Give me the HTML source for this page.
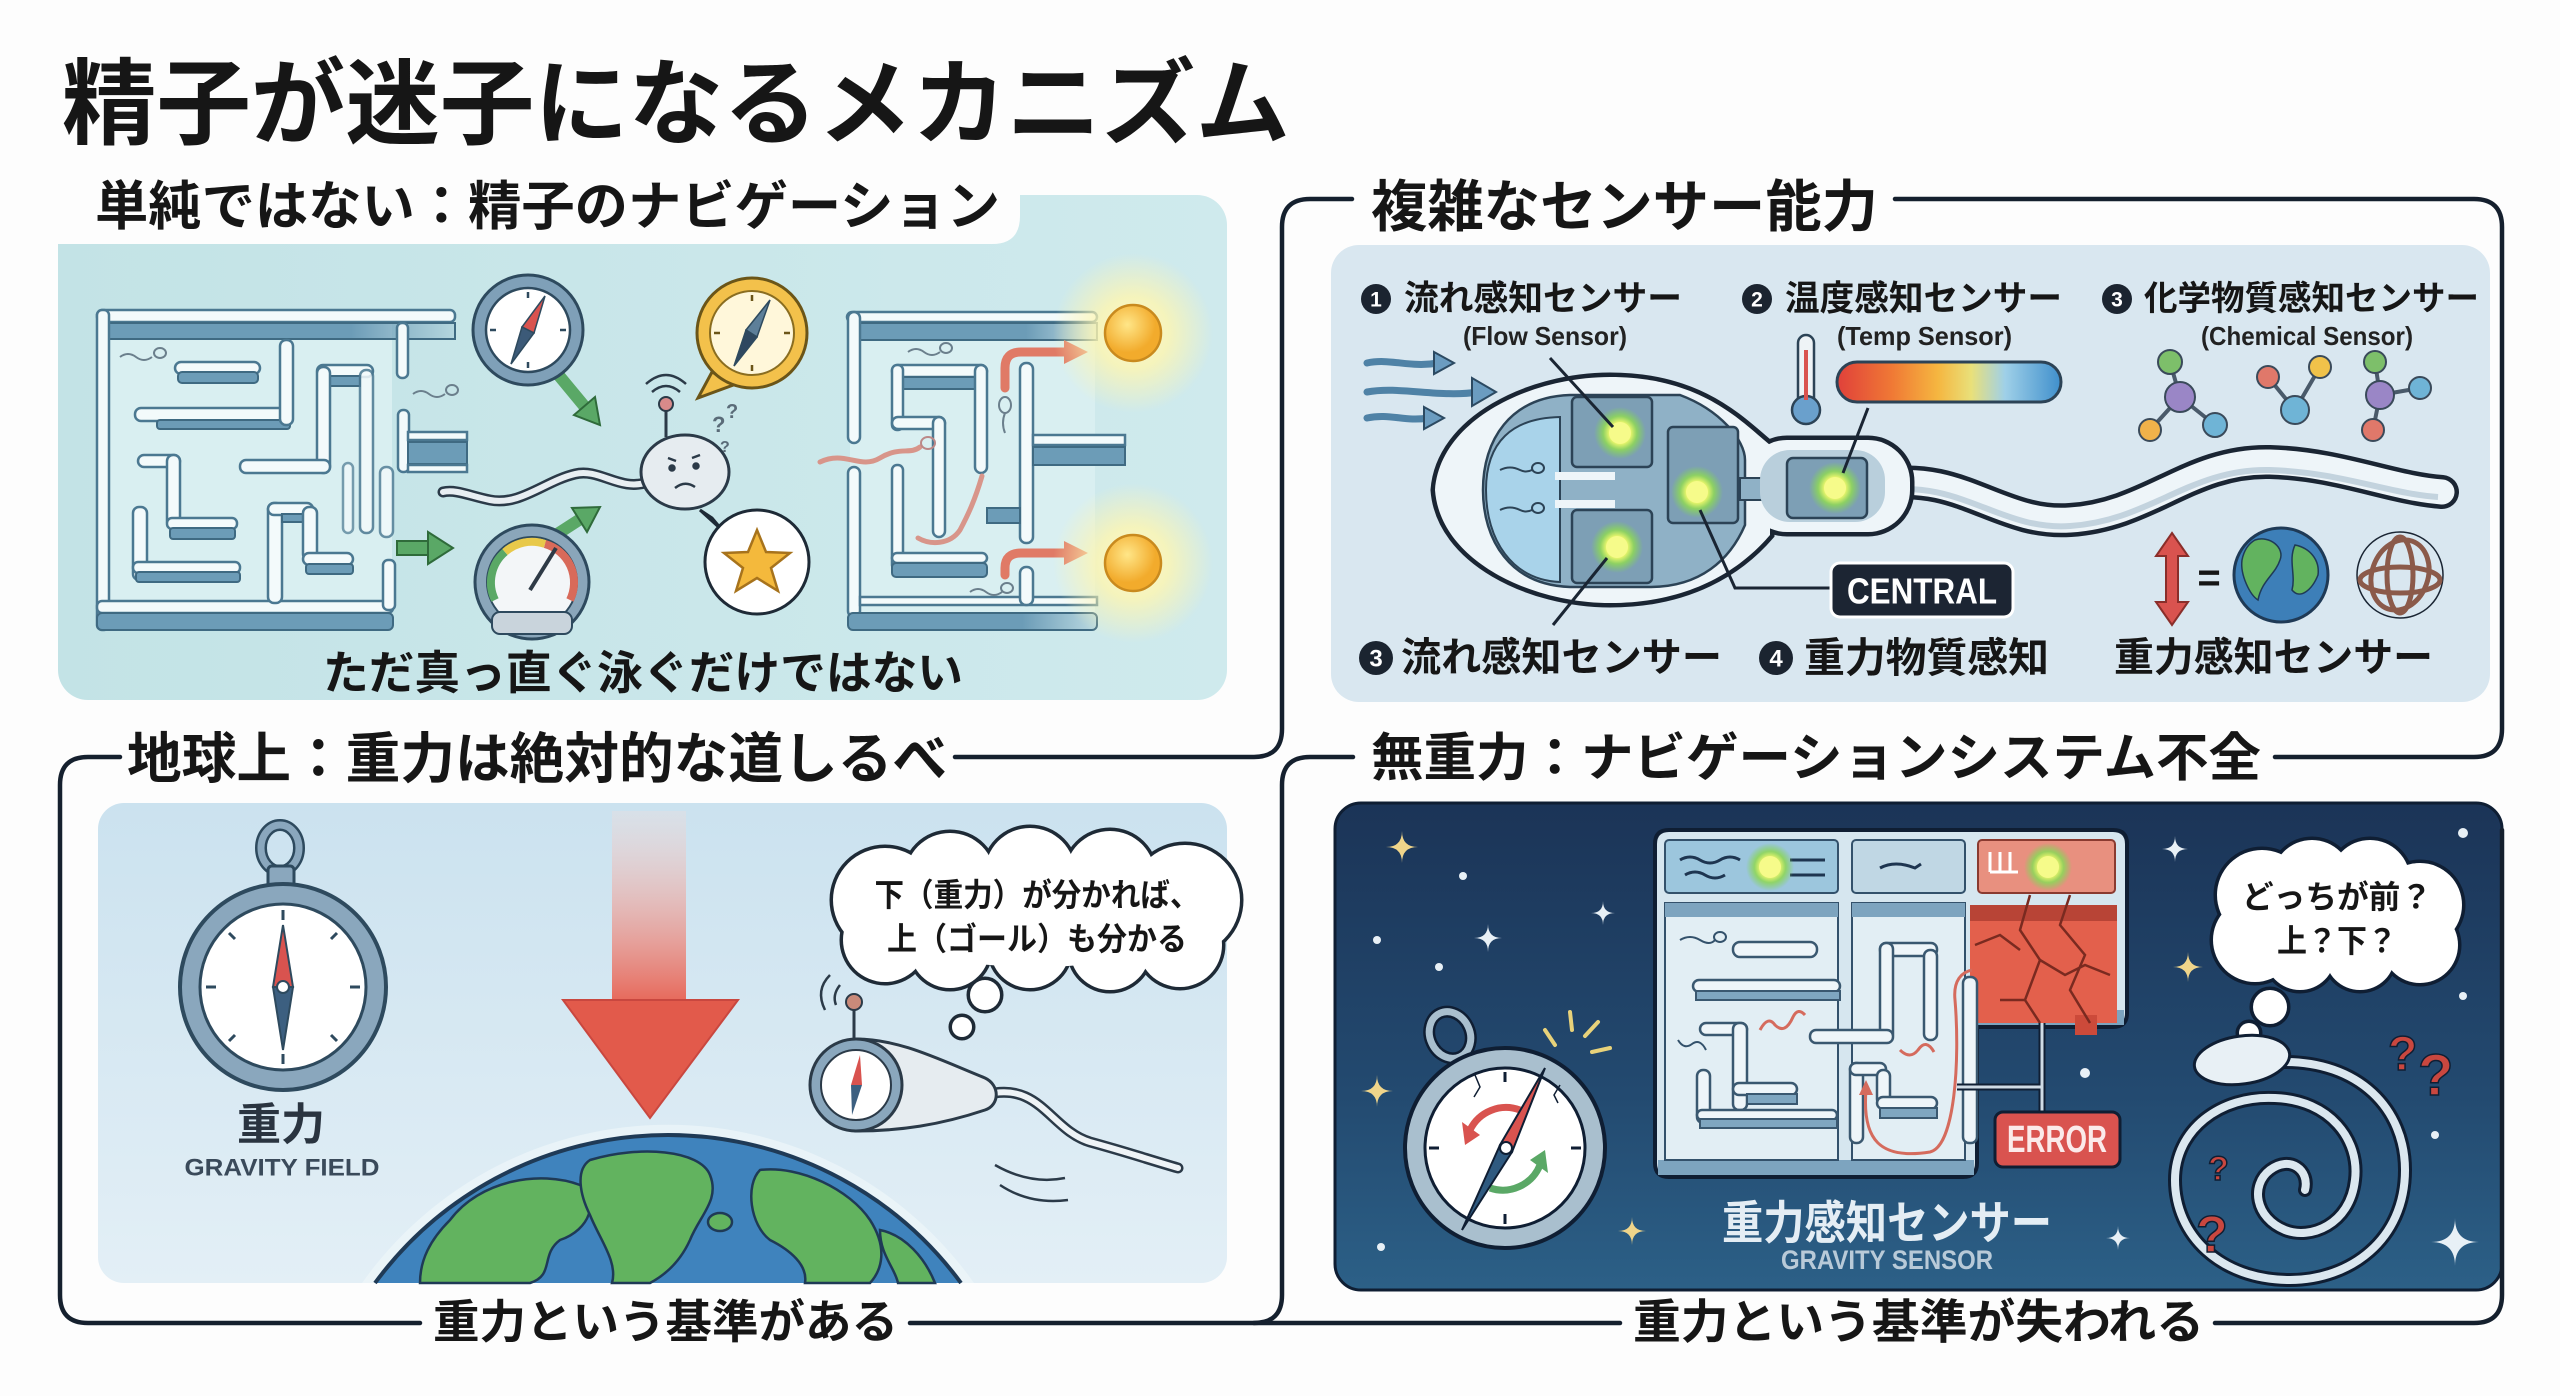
<!DOCTYPE html>
<html><head><meta charset="utf-8">
<style>
html,body{margin:0;padding:0;background:#fdfdfd;width:2560px;height:1396px;overflow:hidden;}
svg{display:block;}
.t{font-family:'Liberation Sans','Noto Sans CJK JP',sans-serif;font-weight:700;fill:#161616;}
.e{font-family:'Liberation Sans','Noto Sans CJK JP',sans-serif;font-weight:700;}
.w{fill:#f3fafb;stroke:#4b7891;stroke-width:2.5;}
.b{fill:#6c9cb7;stroke:#3f6a82;stroke-width:2;}
.w2{fill:#eef5f9;stroke:#3a5870;stroke-width:2.5;}
.b2{fill:#7fa6c0;stroke:#3a5870;stroke-width:2;}
</style></head><body>
<svg width="2560" height="1396" viewBox="0 0 2560 1396" xmlns="http://www.w3.org/2000/svg">
<defs>
<linearGradient id="gTeal" x1="0" y1="0" x2="1" y2="0"><stop offset="0" stop-color="#c3e3e6"/><stop offset="1" stop-color="#cfeaed"/></linearGradient>
<linearGradient id="gBL" x1="0" y1="0" x2="0" y2="1"><stop offset="0" stop-color="#cbe2ef"/><stop offset="1" stop-color="#e3eff6"/></linearGradient>
<linearGradient id="gDark" x1="0" y1="0" x2="0" y2="1"><stop offset="0" stop-color="#1b3457"/><stop offset="0.6" stop-color="#234a70"/><stop offset="1" stop-color="#2c6087"/></linearGradient>
<radialGradient id="sunGlow"><stop offset="0" stop-color="#fffbd0" stop-opacity="1"/><stop offset="0.45" stop-color="#fff6b0" stop-opacity="0.8"/><stop offset="1" stop-color="#fff6b0" stop-opacity="0"/></radialGradient>
<radialGradient id="sunFill" cx="0.4" cy="0.35"><stop offset="0" stop-color="#ffe688"/><stop offset="1" stop-color="#f2ab2c"/></radialGradient>
<radialGradient id="dotGlow"><stop offset="0" stop-color="#fbff9e"/><stop offset="0.4" stop-color="#eef86c"/><stop offset="0.65" stop-color="#8fd65a" stop-opacity="0.9"/><stop offset="1" stop-color="#7fd35a" stop-opacity="0"/></radialGradient>
<linearGradient id="tempBar" x1="0" y1="0" x2="1" y2="0"><stop offset="0" stop-color="#e0403a"/><stop offset="0.25" stop-color="#f07a35"/><stop offset="0.45" stop-color="#f5b640"/><stop offset="0.6" stop-color="#e9e07a"/><stop offset="0.75" stop-color="#9fd0e8"/><stop offset="1" stop-color="#3f8fcc"/></linearGradient>
<linearGradient id="shaft" x1="0" y1="0" x2="0" y2="1"><stop offset="0" stop-color="#f4dcd9" stop-opacity="0.3"/><stop offset="1" stop-color="#e7685a"/></linearGradient>
<linearGradient id="bandFade" x1="0" y1="0" x2="1" y2="0"><stop offset="0.7" stop-color="#6c9cb7"/><stop offset="1" stop-color="#6c9cb7" stop-opacity="0.2"/></linearGradient>
</defs>

<!-- TITLE -->
<text class="t" x="62" y="104" font-size="94" font-weight="900" dominant-baseline="central" textLength="1228" lengthAdjust="spacingAndGlyphs">精子が迷子になるメカニズム</text>

<!-- ===== PANEL BACKGROUNDS ===== -->
<rect x="58" y="195" width="1169" height="505" rx="30" fill="url(#gTeal)"/>
<path d="M0,150 H992 Q1020,150 1020,178 V216 Q1020,244 992,244 H0 Z" fill="#fdfdfd"/>
<rect x="1331" y="245" width="1159" height="457" rx="28" fill="#d9e7f0"/>
<rect x="98" y="803" width="1129" height="480" rx="26" fill="url(#gBL)"/>
<rect x="1335" y="803" width="1167" height="487" rx="26" fill="url(#gDark)" stroke="#0f1e33" stroke-width="3"/>

<!-- ===== FRAME LINES ===== -->
<g fill="none" stroke="#15202e" stroke-width="4.5" stroke-linecap="round">
<path d="M1352,199 L1310,199 Q1282,199 1282,227 L1282,729 Q1282,757 1254,757 L955,757"/>
<path d="M1895,199 L2474,199 Q2502,199 2502,227 L2502,729 Q2502,757 2474,757 L2275,757"/>
<path d="M120,757 L88,757 Q60,757 60,785 L60,1295 Q60,1323 88,1323 L420,1323"/>
<path d="M910,1323 L1620,1323"/>
<path d="M2215,1323 L2474,1323 Q2502,1323 2502,1295 L2502,830"/>
<path d="M1353,757 L1310,757 Q1282,757 1282,785 L1282,1295 Q1282,1323 1254,1323"/>
</g>

<!-- ===== HEADINGS ===== -->
<text class="t" x="95" y="207" font-size="53" dominant-baseline="central" textLength="905" lengthAdjust="spacingAndGlyphs">単純ではない：精子のナビゲーション</text>
<text class="t" x="1371" y="207" font-size="56" dominant-baseline="central" textLength="507" lengthAdjust="spacingAndGlyphs">複雑なセンサー能力</text>
<text class="t" x="127" y="759" font-size="55" dominant-baseline="central" textLength="820" lengthAdjust="spacingAndGlyphs">地球上：重力は絶対的な道しるべ</text>
<text class="t" x="1371" y="759" font-size="52" dominant-baseline="central" textLength="890" lengthAdjust="spacingAndGlyphs">無重力：ナビゲーションシステム不全</text>
<text class="t" x="433" y="1322" font-size="46" dominant-baseline="central" textLength="465" lengthAdjust="spacingAndGlyphs">重力という基準がある</text>
<text class="t" x="1633" y="1322" font-size="47" dominant-baseline="central" textLength="571" lengthAdjust="spacingAndGlyphs">重力という基準が失われる</text>

<!-- ===== TOP-LEFT PANEL ===== -->
<rect x="100" y="314" width="292" height="300" fill="#d9eff1"/>
<rect class="w" x="97" y="310" width="358" height="12" rx="5"/>
<rect x="108" y="323" width="347" height="16" fill="url(#bandFade)" stroke="#3f6a82" stroke-width="2"/>
<rect class="w" x="97" y="310" width="12" height="320" rx="5"/>
<rect class="w" x="97" y="601" width="296" height="12" rx="5"/>
<rect class="b" x="97" y="613" width="296" height="17" rx="5"/>
<rect class="w" x="383" y="560" width="12" height="50" rx="5"/>
<rect class="w" x="397" y="323" width="11" height="55" rx="5"/>
<rect class="w" x="398" y="410" width="11" height="62" rx="5"/>
<rect class="w" x="408" y="432" width="59" height="8"/>
<rect class="b" x="408" y="442" width="59" height="22"/>
<rect class="w" x="408" y="465" width="59" height="7"/>
<rect class="w" x="175" y="362" width="85" height="12" rx="6"/>
<rect class="b" x="178" y="372" width="80" height="11" rx="4"/>
<rect class="w" x="135" y="408" width="155" height="13" rx="6"/>
<rect class="b" x="157" y="420" width="133" height="9" rx="3"/>
<rect class="w" x="280" y="340" width="13" height="85" rx="6"/>
<rect class="w" x="317" y="365" width="56" height="12" rx="6"/>
<rect class="b" x="330" y="376" width="30" height="10"/>
<rect class="w" x="317" y="367" width="13" height="106" rx="6"/>
<rect class="w" x="360" y="370" width="13" height="163" rx="6" opacity="0.85"/>
<rect class="w" x="240" y="460" width="90" height="13" rx="6"/>
<rect class="w" x="138" y="455" width="42" height="12" rx="6"/>
<rect class="w" x="167" y="455" width="13" height="72" rx="6"/>
<rect class="w" x="167" y="518" width="70" height="11" rx="5"/>
<rect class="b" x="170" y="528" width="65" height="11" rx="3"/>
<rect class="w" x="133" y="507" width="14" height="73" rx="6"/>
<rect class="w" x="133" y="562" width="107" height="11" rx="5"/>
<rect class="b" x="136" y="572" width="104" height="10" rx="3"/>
<rect class="w" x="268" y="503" width="14" height="100" rx="6"/>
<rect class="w" x="268" y="503" width="45" height="12" rx="6"/>
<rect class="b" x="282" y="514" width="22" height="8"/>
<rect class="w" x="303" y="507" width="14" height="53" rx="6"/>
<rect class="w" x="303" y="553" width="50" height="12" rx="6"/>
<rect class="b" x="306" y="564" width="47" height="10" rx="3"/>
<rect class="w" x="343" y="463" width="10" height="70" rx="5" opacity="0.7"/>
<rect class="w" x="380" y="467" width="13" height="70" rx="6" opacity="0.8"/>
<g fill="none" stroke="#6b7f8c" stroke-width="2">
<path d="M120,357 q8,-6 16,0 t16,0"/><ellipse cx="160" cy="353" rx="6" ry="5"/>
<path d="M413,394 q8,-6 16,0 t16,0"/><ellipse cx="452" cy="390" rx="6" ry="5"/>
</g>
<g fill="#5aa866" stroke="#2f6b3a" stroke-width="2">
<rect x="397" y="541" width="34" height="14"/>
<polygon points="428,532 453,548 428,564"/>
<line x1="556" y1="372" x2="585" y2="407" stroke="#5aa866" stroke-width="12"/>
<polygon points="595,397 600,425 574,415"/>
<line x1="548" y1="540" x2="582" y2="518" stroke="#5aa866" stroke-width="12"/>
<polygon points="587,532 600,507 572,508"/>
</g>
<circle cx="528" cy="330" r="55" fill="#7fa0b8" stroke="#2e4a5e" stroke-width="3"/>
<circle cx="528" cy="330" r="42" fill="#fff" stroke="#2e4a5e" stroke-width="2.5"/>
<g stroke="#2e4a5e" stroke-width="2.5"><line x1="528" y1="292" x2="528" y2="298"/><line x1="528" y1="362" x2="528" y2="368"/><line x1="490" y1="330" x2="496" y2="330"/><line x1="560" y1="330" x2="566" y2="330"/></g>
<polygon points="545,296 534,333 522,327" fill="#d9534f" stroke="#2e4a5e" stroke-width="1.5"/>
<polygon points="511,364 534,333 522,327" fill="#3c5a78" stroke="#2e4a5e" stroke-width="1.5"/>
<polygon points="712,372 698,398 736,384" fill="#f3c14b" stroke="#6b5518" stroke-width="3"/>
<circle cx="752" cy="333" r="55" fill="#f3c14b" stroke="#6b5518" stroke-width="3"/>
<circle cx="752" cy="333" r="42" fill="#fff7da" stroke="#8a6d20" stroke-width="2"/>
<g stroke="#6b5518" stroke-width="2.5"><line x1="752" y1="295" x2="752" y2="301"/><line x1="752" y1="365" x2="752" y2="371"/><line x1="714" y1="333" x2="720" y2="333"/><line x1="784" y1="333" x2="790" y2="333"/></g>
<polygon points="770,300 757,337 746,330" fill="#5d7f99" stroke="#2e4a5e" stroke-width="1.5"/>
<polygon points="734,366 757,337 746,330" fill="#2f4860" stroke="#2e4a5e" stroke-width="1.5"/>
<circle cx="532" cy="582" r="57" fill="#8aa6ba" stroke="#2e4a5e" stroke-width="3"/>
<circle cx="532" cy="582" r="45" fill="#f3f6f8" stroke="#2e4a5e" stroke-width="2"/>
<path d="M495,600 A40,40 0 0 1 505,552" fill="none" stroke="#5aa866" stroke-width="8"/>
<path d="M505,552 A40,40 0 0 1 545,544" fill="none" stroke="#e8c94a" stroke-width="8"/>
<path d="M545,544 A40,40 0 0 1 570,600" fill="none" stroke="#d86a5a" stroke-width="8"/>
<line x1="530" y1="590" x2="556" y2="548" stroke="#2e3a46" stroke-width="4"/>
<rect x="492" y="612" width="80" height="22" rx="8" fill="#c9d4dc" stroke="#2e4a5e" stroke-width="2"/>
<polygon points="712,518 700,510 722,530" fill="#fff" stroke="#1e2a36" stroke-width="3"/>
<circle cx="757" cy="562" r="52" fill="#fff" stroke="#1e2a36" stroke-width="3"/>
<polygon points="757,530 766,552 790,553 771,568 778,591 757,578 736,591 743,568 724,553 748,552" fill="#f4b93c" stroke="#a7731c" stroke-width="2.5"/>
<path d="M648,482 C620,492 600,468 575,474 C545,481 520,506 490,500 C470,496 456,489 443,492" fill="none" stroke="#2b3a48" stroke-width="11" stroke-linecap="round"/>
<path d="M648,482 C620,492 600,468 575,474 C545,481 520,506 490,500 C470,496 456,489 443,492" fill="none" stroke="#e8eef2" stroke-width="6" stroke-linecap="round"/>
<ellipse cx="685" cy="472" rx="44" ry="37" fill="#e6ecf0" stroke="#2b3a48" stroke-width="3"/>
<line x1="666" y1="437" x2="666" y2="410" stroke="#2b3a48" stroke-width="3"/>
<circle cx="666" cy="404" r="7" fill="#d88a8a" stroke="#2b3a48" stroke-width="2"/>
<g fill="none" stroke="#2b3a48" stroke-width="2.5"><path d="M652,392 Q666,380 680,392"/><path d="M646,384 Q666,366 686,384"/></g>
<g stroke="#2b3a48" stroke-width="2.5" fill="none"><path d="M668,458 l8,3"/><path d="M700,455 l-8,3"/><circle cx="672" cy="468" r="2.5" fill="#2b3a48"/><circle cx="696" cy="466" r="2.5" fill="#2b3a48"/><path d="M675,488 Q685,480 695,487"/></g>
<text class="e" x="712" y="432" font-size="22" fill="#5a6b78">?</text><text class="e" x="726" y="418" font-size="20" fill="#5a6b78">?</text><text class="e" x="720" y="452" font-size="16" fill="#5a6b78">?</text>
<rect x="850" y="315" width="245" height="298" fill="#d9eff1"/>
<rect class="w" x="847" y="312" width="250" height="10" rx="5"/>
<rect x="860" y="323" width="237" height="17" fill="url(#bandFade)" stroke="#3f6a82" stroke-width="2"/>
<rect class="w" x="848" y="312" width="12" height="131" rx="6"/>
<rect class="w" x="848" y="467" width="12" height="150" rx="6"/>
<rect class="w" x="860" y="597" width="237" height="8"/>
<rect x="848" y="613" width="249" height="17" rx="5" fill="url(#bandFade)" stroke="#3f6a82" stroke-width="2"/>
<rect class="w" x="892" y="365" width="95" height="12" rx="6"/>
<rect class="b" x="903" y="377" width="72" height="12"/>
<rect class="w" x="892" y="365" width="11" height="65" rx="5"/>
<rect class="w" x="892" y="417" width="53" height="12" rx="6"/>
<rect class="w" x="933" y="417" width="12" height="120" rx="6"/>
<rect class="w" x="975" y="365" width="12" height="108" rx="6"/>
<rect class="w" x="892" y="465" width="11" height="105" rx="5"/>
<rect class="w" x="892" y="553" width="95" height="10" rx="5"/>
<rect class="b" x="892" y="563" width="95" height="14" rx="4"/>
<rect class="w" x="1020" y="363" width="13" height="180" rx="6"/>
<rect class="w" x="1033" y="435" width="92" height="10"/>
<rect class="b" x="1033" y="447" width="92" height="18"/>
<rect class="b" x="987" y="508" width="33" height="15"/>
<rect class="w" x="1020" y="567" width="13" height="38" rx="6"/>
<g fill="none" stroke="#d8958a" stroke-width="5" stroke-linecap="round">
<path d="M820,462 C845,450 860,470 880,458 C900,446 910,455 920,447"/>
<path d="M982,476 C975,500 968,515 960,530 C950,545 930,545 918,538"/>
</g>
<ellipse cx="928" cy="443" rx="7" ry="6" fill="none" stroke="#b88" stroke-width="2"/>
<g fill="none" stroke="#6b7f8c" stroke-width="2">
<path d="M908,352 q8,-6 16,0 t16,0"/><ellipse cx="946" cy="348" rx="6" ry="5"/>
<path d="M970,592 q8,-6 16,0 t16,0"/><ellipse cx="1007" cy="588" rx="6" ry="5"/>
<ellipse cx="1005" cy="405" rx="6" ry="8"/><path d="M1005,413 q-4,10 0,20"/>
</g>
<g fill="none" stroke="#e07a66" stroke-width="9" stroke-linecap="round">
<path d="M1005,388 L1005,368 Q1005,352 1021,352 L1066,352"/>
<path d="M1005,575 L1005,568 Q1005,553 1021,553 L1066,553"/>
</g>
<polygon points="1064,340 1088,352 1064,364" fill="#e07a66"/>
<polygon points="1064,541 1088,553 1064,565" fill="#e07a66"/>
<circle cx="1133" cy="333" r="80" fill="url(#sunGlow)"/>
<circle cx="1133" cy="563" r="80" fill="url(#sunGlow)"/>
<circle cx="1133" cy="333" r="28" fill="url(#sunFill)" stroke="#c98a1e" stroke-width="2.5"/>
<circle cx="1133" cy="563" r="28" fill="url(#sunFill)" stroke="#c98a1e" stroke-width="2.5"/>
<text class="t" x="323" y="673" font-size="46" dominant-baseline="central" textLength="640" lengthAdjust="spacingAndGlyphs">ただ真っ直ぐ泳ぐだけではない</text>

<!-- ===== TOP-RIGHT PANEL ===== -->
<circle cx="1376" cy="299" r="15" fill="#1b2430"/><text class="e" x="1376" y="300" font-size="21" fill="#fff" text-anchor="middle" dominant-baseline="central">1</text>
<text class="t" x="1404" y="299" font-size="35" dominant-baseline="central" textLength="278" lengthAdjust="spacingAndGlyphs">流れ感知センサー</text>
<text class="e" x="1463" y="336" font-size="26" fill="#222" dominant-baseline="central" textLength="164" lengthAdjust="spacingAndGlyphs" font-weight="400">(Flow Sensor)</text>
<circle cx="1757" cy="299" r="15" fill="#1b2430"/><text class="e" x="1757" y="300" font-size="21" fill="#fff" text-anchor="middle" dominant-baseline="central">2</text>
<text class="t" x="1785" y="299" font-size="35" dominant-baseline="central" textLength="277" lengthAdjust="spacingAndGlyphs">温度感知センサー</text>
<text class="e" x="1837" y="336" font-size="26" fill="#222" dominant-baseline="central" textLength="175" lengthAdjust="spacingAndGlyphs" font-weight="400">(Temp Sensor)</text>
<circle cx="2117" cy="299" r="15" fill="#1b2430"/><text class="e" x="2117" y="300" font-size="21" fill="#fff" text-anchor="middle" dominant-baseline="central">3</text>
<text class="t" x="2144" y="299" font-size="34" dominant-baseline="central" textLength="335" lengthAdjust="spacingAndGlyphs">化学物質感知センサー</text>
<text class="e" x="2201" y="336" font-size="26" fill="#222" dominant-baseline="central" textLength="212" lengthAdjust="spacingAndGlyphs" font-weight="400">(Chemical Sensor)</text>
<g fill="none" stroke="#4f82a6" stroke-width="7" stroke-linecap="round">
<path d="M1367,363 C1390,358 1410,368 1438,363"/>
<path d="M1367,392 C1400,386 1440,398 1478,392"/>
<path d="M1367,418 C1390,413 1405,422 1428,418"/>
</g>
<g fill="#6b9cc0" stroke="#2c4a62" stroke-width="2">
<polygon points="1434,352 1454,363 1434,374"/>
<polygon points="1472,378 1496,392 1472,406"/>
<polygon points="1424,407 1444,418 1424,429"/>
</g>
<rect x="1798" y="335" width="16" height="72" rx="8" fill="#eef3f6" stroke="#2c4356" stroke-width="2.5"/>
<circle cx="1806" cy="410" r="14" fill="#6aa0cc" stroke="#2c4356" stroke-width="2.5"/>
<line x1="1806" y1="350" x2="1806" y2="400" stroke="#d9534f" stroke-width="4"/>
<rect x="1837" y="362" width="224" height="40" rx="20" fill="url(#tempBar)" stroke="#2c4356" stroke-width="3"/>
<g stroke="#4a5a6a" stroke-width="4">
<line x1="2180" y1="397" x2="2170" y2="362"/><line x1="2180" y1="397" x2="2150" y2="430"/><line x1="2180" y1="397" x2="2215" y2="425"/>
<line x1="2268" y1="377" x2="2295" y2="410"/><line x1="2320" y1="367" x2="2295" y2="410"/>
<line x1="2380" y1="395" x2="2375" y2="362"/><line x1="2380" y1="395" x2="2420" y2="388"/><line x1="2380" y1="395" x2="2373" y2="430"/>
</g>
<g stroke="#3a4a5a" stroke-width="2">
<circle cx="2180" cy="397" r="15" fill="#9a86c6"/><circle cx="2170" cy="362" r="12" fill="#7dbf6a"/><circle cx="2150" cy="430" r="11" fill="#f0b24a"/><circle cx="2215" cy="425" r="12" fill="#6fb4d6"/>
<circle cx="2268" cy="377" r="11" fill="#e0786a"/><circle cx="2320" cy="367" r="11" fill="#f0c24a"/><circle cx="2295" cy="410" r="14" fill="#6fb4d6"/>
<circle cx="2375" cy="362" r="11" fill="#7dbf6a"/><circle cx="2380" cy="395" r="14" fill="#9a86c6"/><circle cx="2420" cy="388" r="11" fill="#6fb4d6"/><circle cx="2373" cy="430" r="11" fill="#e0786a"/>
</g>
<path d="M1880,485 C1960,470 2000,525 2070,520 C2150,515 2190,460 2270,462 C2340,464 2390,488 2442,492" fill="none" stroke="#1a2533" stroke-width="34" stroke-linecap="round"/>
<path d="M1880,485 C1960,470 2000,525 2070,520 C2150,515 2190,460 2270,462 C2340,464 2390,488 2442,492" fill="none" stroke="#eef5f9" stroke-width="25" stroke-linecap="round"/>
<path d="M1880,491 C1960,478 2000,531 2070,526 C2150,521 2190,468 2270,470 C2340,472 2390,494 2438,497" fill="none" stroke="#c3d3de" stroke-width="6"/>
<g stroke="#1a2533" stroke-width="9" fill="#1a2533">
<path d="M1435,490 C1440,420 1530,377 1610,377 C1700,377 1740,420 1770,445 L1770,535 C1740,570 1690,603 1610,603 C1530,603 1440,560 1435,490 Z"/>
<rect x="1745" y="440" width="165" height="92" rx="42"/>
</g>
<g fill="#eef5f9">
<path d="M1435,490 C1440,420 1530,377 1610,377 C1700,377 1740,420 1770,445 L1770,535 C1740,570 1690,603 1610,603 C1530,603 1440,560 1435,490 Z"/>
<rect x="1745" y="440" width="165" height="92" rx="42"/>
</g>
<path d="M1483,490 C1483,440 1510,397 1570,395 L1680,395 C1720,410 1745,440 1745,460 L1745,525 C1730,560 1700,587 1650,587 L1570,587 C1510,585 1483,540 1483,490 Z" fill="#8fb1c6" stroke="#2c4356" stroke-width="2.5"/>
<path d="M1486,490 C1486,442 1512,418 1560,417 L1560,582 C1512,580 1486,540 1486,490 Z" fill="#a9d3ea" stroke="#2c4356" stroke-width="2"/>
<rect x="1555" y="472" width="60" height="8" fill="#eef5f9"/><rect x="1555" y="500" width="60" height="8" fill="#eef5f9"/>
<g fill="none" stroke="#2c4356" stroke-width="2"><path d="M1500,470 q10,-5 20,0 q6,3 12,0"/><ellipse cx="1538" cy="468" rx="6" ry="5"/><path d="M1500,510 q10,-5 20,0 q6,3 12,0"/><ellipse cx="1538" cy="508" rx="6" ry="5"/></g>
<rect x="1740" y="478" width="50" height="22" fill="#8fb1c6" stroke="#2c4356" stroke-width="2"/>
<rect x="1760" y="450" width="125" height="72" rx="30" fill="#b9cfdc"/>
<g fill="#7d9fb5" stroke="#2c4356" stroke-width="2.5">
<rect x="1572" y="397" width="80" height="70" rx="5"/>
<rect x="1572" y="510" width="80" height="73" rx="5"/>
<rect x="1668" y="427" width="70" height="96" rx="5"/>
<rect x="1787" y="458" width="80" height="60" rx="6"/>
</g>
<g fill="url(#dotGlow)"><circle cx="1620" cy="433" r="26"/><circle cx="1617" cy="547" r="26"/><circle cx="1697" cy="492" r="26"/><circle cx="1835" cy="488" r="26"/></g>
<g fill="#f6fb8a"><circle cx="1620" cy="433" r="11"/><circle cx="1617" cy="547" r="11"/><circle cx="1697" cy="492" r="11"/><circle cx="1835" cy="488" r="11"/></g>
<g fill="none" stroke="#1a2533" stroke-width="3">
<path d="M1550,358 L1613,427"/><path d="M1607,558 L1553,625"/>
<path d="M1700,510 L1735,588 L1833,588"/><path d="M1843,473 L1868,408"/>
</g>
<rect x="1831" y="563" width="182" height="54" rx="9" fill="#1c2533" stroke="#fff" stroke-width="3"/>
<text class="e" x="1922" y="591" font-size="36" fill="#fff" text-anchor="middle" dominant-baseline="central" textLength="150" lengthAdjust="spacingAndGlyphs">CENTRAL</text>
<g fill="#d9534f" stroke="#8a2e2a" stroke-width="2">
<polygon points="2172,533 2188,556 2178,556 2178,602 2188,602 2172,625 2156,602 2166,602 2166,556 2156,556"/>
</g>
<text class="e" x="2209" y="578" font-size="40" text-anchor="middle" dominant-baseline="central" fill="#161616">=</text>
<circle cx="2281" cy="575" r="47" fill="#3d7fb8" stroke="#1f3a56" stroke-width="3"/>
<path d="M2255,540 C2270,535 2285,548 2280,560 C2275,575 2262,580 2258,600 C2250,595 2240,575 2242,560 C2244,550 2248,544 2255,540 Z" fill="#62b35f" stroke="#1f3a56" stroke-width="1.5"/>
<path d="M2295,545 C2310,548 2320,560 2318,575 C2312,590 2300,600 2292,590 C2296,575 2288,560 2295,545 Z" fill="#62b35f" stroke="#1f3a56" stroke-width="1.5"/>
<g fill="none" stroke="#1a2533" stroke-width="1.5"><circle cx="2400" cy="575" r="43"/></g>
<g fill="none" stroke="#8b5a4a" stroke-width="5"><ellipse cx="2400" cy="580" rx="40" ry="13"/><ellipse cx="2400" cy="575" rx="13" ry="38"/><ellipse cx="2400" cy="575" rx="28" ry="36" transform="rotate(20 2400 575)"/></g>
<circle cx="1376" cy="658" r="17" fill="#1b2430"/><text class="e" x="1376" y="659" font-size="24" fill="#fff" text-anchor="middle" dominant-baseline="central">3</text>
<text class="t" x="1401" y="658" font-size="40" dominant-baseline="central" textLength="321" lengthAdjust="spacingAndGlyphs">流れ感知センサー</text>
<circle cx="1776" cy="658" r="17" fill="#1b2430"/><text class="e" x="1776" y="659" font-size="24" fill="#fff" text-anchor="middle" dominant-baseline="central">4</text>
<text class="t" x="1804" y="658" font-size="41" dominant-baseline="central" textLength="245" lengthAdjust="spacingAndGlyphs">重力物質感知</text>
<text class="t" x="2114" y="658" font-size="40" dominant-baseline="central" textLength="319" lengthAdjust="spacingAndGlyphs">重力感知センサー</text>

<!-- ===== BOTTOM-LEFT PANEL ===== -->
<path d="M362,1283 A375,375 0 0 1 974,1283 Z" fill="#eef6fa" opacity="0.7"/>
<path d="M375,1283 A364,364 0 0 1 961,1283 Z" fill="#3f83bd"/>
<path d="M375,1283 A364,364 0 0 1 961,1283" fill="none" stroke="#1f3a56" stroke-width="4"/>
<g fill="#62b35f" stroke="#1f3a56" stroke-width="2.5">
<path d="M450,1220 C480,1180 540,1170 580,1185 C600,1200 590,1230 560,1240 C540,1255 555,1275 530,1283 L420,1283 C420,1260 430,1240 450,1220 Z"/>
<path d="M590,1160 C640,1145 700,1150 710,1175 C720,1200 700,1215 690,1240 C680,1262 665,1275 650,1283 L612,1283 C618,1262 600,1240 590,1215 C580,1195 575,1170 590,1160 Z"/>
<path d="M760,1170 C800,1165 850,1190 870,1220 C888,1248 882,1270 870,1283 L805,1283 C808,1265 790,1250 770,1240 C750,1225 745,1185 760,1170 Z"/>
<path d="M880,1230 C905,1235 925,1258 935,1283 L898,1283 C895,1268 880,1255 880,1230 Z"/>
<ellipse cx="720" cy="1222" rx="12" ry="9"/>
</g>
<rect x="612" y="811" width="74" height="191" fill="url(#shaft)"/>
<polygon points="563,1000 738,1000 650,1118" fill="#e25a4b" stroke="#c9473f" stroke-width="2"/>
<ellipse cx="280" cy="848" rx="19" ry="23" fill="none" stroke="#2e4a5e" stroke-width="12"/>
<ellipse cx="280" cy="848" rx="19" ry="23" fill="none" stroke="#8aa7bd" stroke-width="7"/>
<rect x="268" y="866" width="26" height="22" rx="4" fill="#8aa7bd" stroke="#2e4a5e" stroke-width="3"/>
<circle cx="283" cy="987" r="103" fill="#8aa7bd" stroke="#2e4a5e" stroke-width="4"/>
<circle cx="283" cy="987" r="83" fill="#fff" stroke="#2e4a5e" stroke-width="3"/>
<g stroke="#2e4a5e" stroke-width="3">
<line x1="283" y1="910" x2="283" y2="920"/><line x1="283" y1="1054" x2="283" y2="1064"/><line x1="206" y1="987" x2="216" y2="987"/><line x1="350" y1="987" x2="360" y2="987"/>
<line x1="229" y1="933" x2="235" y2="939"/><line x1="337" y1="933" x2="331" y2="939"/><line x1="229" y1="1041" x2="235" y2="1035"/><line x1="337" y1="1041" x2="331" y2="1035"/>
</g>
<polygon points="283,925 273,987 293,987" fill="#d9534f" stroke="#2e4a5e" stroke-width="2"/>
<polygon points="283,1050 273,987 293,987" fill="#3c5f80" stroke="#2e4a5e" stroke-width="2"/>
<circle cx="283" cy="987" r="6" fill="#fff" stroke="#2e4a5e" stroke-width="2"/>
<text class="t" x="281" y="1125" font-size="44" text-anchor="middle" dominant-baseline="central" style="fill:#2a3440">重力</text>
<text class="e" x="282" y="1168" font-size="24" text-anchor="middle" dominant-baseline="central" fill="#3a4a5a" textLength="195" lengthAdjust="spacingAndGlyphs" font-weight="400">GRAVITY FIELD</text>
<g stroke="#1e2a36" stroke-width="7" fill="#1e2a36">
<circle cx="885" cy="900" r="52"/><circle cx="950" cy="878" r="45"/><circle cx="1030" cy="873" r="45"/><circle cx="1110" cy="876" r="45"/><circle cx="1185" cy="900" r="55"/>
<circle cx="1180" cy="945" r="42"/><circle cx="1110" cy="950" r="40"/><circle cx="1030" cy="948" r="40"/><circle cx="950" cy="948" r="40"/><circle cx="885" cy="940" r="42"/>
<circle cx="985" cy="995" r="15"/><circle cx="962" cy="1027" r="10"/>
</g>
<g fill="#fff">
<circle cx="885" cy="900" r="52"/><circle cx="950" cy="878" r="45"/><circle cx="1030" cy="873" r="45"/><circle cx="1110" cy="876" r="45"/><circle cx="1185" cy="900" r="55"/>
<circle cx="1180" cy="945" r="42"/><circle cx="1110" cy="950" r="40"/><circle cx="1030" cy="948" r="40"/><circle cx="950" cy="948" r="40"/><circle cx="885" cy="940" r="42"/>
<ellipse cx="1035" cy="912" rx="170" ry="55"/>
<circle cx="985" cy="995" r="15"/><circle cx="962" cy="1027" r="10"/>
</g>
<text class="t" x="1037" y="895" font-size="32" text-anchor="middle" dominant-baseline="central" textLength="325" lengthAdjust="spacingAndGlyphs">下（重力）が分かれば、</text>
<text class="t" x="1037" y="939" font-size="32" text-anchor="middle" dominant-baseline="central" textLength="300" lengthAdjust="spacingAndGlyphs">上（ゴール）も分かる</text>
<path d="M985,1095 C1040,1080 1050,1130 1090,1142 C1130,1153 1150,1160 1178,1168" fill="none" stroke="#2b3a48" stroke-width="11" stroke-linecap="round"/>
<path d="M985,1095 C1040,1080 1050,1130 1090,1142 C1130,1153 1150,1160 1178,1168" fill="none" stroke="#eef3f6" stroke-width="6" stroke-linecap="round"/>
<path d="M856,1039 C900,1039 940,1060 985,1078 C1000,1085 1000,1105 985,1110 C940,1125 900,1131 856,1131 Z" fill="#e6ecf0" stroke="#2b3a48" stroke-width="3"/>
<circle cx="856" cy="1085" r="46" fill="#8aa7bd" stroke="#2b3a48" stroke-width="3"/>
<circle cx="856" cy="1085" r="35" fill="#fff" stroke="#2b3a48" stroke-width="2"/>
<polygon points="860,1055 851,1085 862,1085" fill="#d9534f"/><polygon points="852,1115 851,1085 862,1085" fill="#3c5f80"/>
<line x1="854" y1="1039" x2="854" y2="1008" stroke="#2b3a48" stroke-width="3"/>
<circle cx="854" cy="1002" r="8" fill="#c98a7a" stroke="#2b3a48" stroke-width="2"/>
<g fill="none" stroke="#2b3a48" stroke-width="2.5"><path d="M830,975 Q815,990 825,1010"/><path d="M840,985 Q832,995 836,1005"/><path d="M995,1165 Q1030,1185 1065,1178"/><path d="M1000,1185 Q1030,1205 1068,1200"/></g>

<!-- ===== BOTTOM-RIGHT PANEL ===== -->
<g fill="#f0d58a">
<path d="M1402,831 Q1402,847 1418,847 Q1402,847 1402,863 Q1402,847 1386,847 Q1402,847 1402,831 Z"/>
<path d="M1377,1075 Q1377,1091 1393,1091 Q1377,1091 1377,1107 Q1377,1091 1361,1091 Q1377,1091 1377,1075 Z"/>
<path d="M1632,1217 Q1632,1231 1646,1231 Q1632,1231 1632,1245 Q1632,1231 1618,1231 Q1632,1231 1632,1217 Z"/>
<path d="M2188,952 Q2188,967 2203,967 Q2188,967 2188,982 Q2188,967 2173,967 Q2188,967 2188,952 Z"/>
</g>
<g fill="#e8f0f6">
<path d="M1603,901 Q1603,913 1615,913 Q1603,913 1603,925 Q1603,913 1591,913 Q1603,913 1603,901 Z"/>
<path d="M1488,924 Q1488,938 1502,938 Q1488,938 1488,952 Q1488,938 1474,938 Q1488,938 1488,924 Z"/>
<path d="M2175,836 Q2175,849 2188,849 Q2175,849 2175,862 Q2175,849 2162,849 Q2175,849 2175,836 Z"/>
<path d="M2118,1226 Q2118,1238 2130,1238 Q2118,1238 2118,1250 Q2118,1238 2106,1238 Q2118,1238 2118,1226 Z"/>
<path d="M2455,1218 Q2455,1242 2479,1242 Q2455,1242 2455,1266 Q2455,1242 2431,1242 Q2455,1242 2455,1218 Z"/>
<circle cx="1463" cy="876" r="4"/><circle cx="1377" cy="940" r="4"/><circle cx="1439" cy="967" r="4"/><circle cx="1381" cy="1247" r="4"/>
<circle cx="2463" cy="833" r="5"/><circle cx="2463" cy="996" r="4"/><circle cx="2435" cy="1135" r="4"/><circle cx="2085" cy="1073" r="5"/>
</g>
<path d="M1669,830 H2113 Q2127,830 2127,844 V1013 Q2127,1027 2113,1027 H1977 V1163 Q1977,1177 1963,1177 H1669 Q1655,1177 1655,1163 V844 Q1655,830 1669,830 Z" fill="#d6e6ef" stroke="#0f1e33" stroke-width="4"/>
<rect x="1658" y="1160" width="316" height="15" fill="#7da4bf"/>
<rect x="1977" y="1010" width="147" height="15" fill="#7da4bf"/>
<rect x="1665" y="840" width="173" height="53" rx="4" fill="#9cc6dd" stroke="#33516b" stroke-width="2"/>
<rect x="1852" y="840" width="113" height="53" rx="4" fill="#c0d7e4" stroke="#33516b" stroke-width="2"/>
<rect x="1978" y="840" width="137" height="53" rx="4" fill="#e8907f" stroke="#8a3a30" stroke-width="2"/>
<rect x="1665" y="903" width="173" height="257" fill="#e2eef4" stroke="#33516b" stroke-width="2"/>
<rect x="1852" y="903" width="113" height="257" fill="#e2eef4" stroke="#33516b" stroke-width="2"/>
<rect x="1665" y="903" width="173" height="14" fill="#7da4bf"/>
<rect x="1852" y="903" width="113" height="14" fill="#7da4bf"/>
<g fill="none" stroke="#1e3550" stroke-width="3"><path d="M1680,860 q10,-6 20,0 t20,0 t20,0"/><path d="M1685,875 q10,-6 20,0 t20,0"/><path d="M1790,860 h35"/><path d="M1790,875 h35"/><path d="M1880,868 q15,-8 35,0 l6,-4"/></g>
<g fill="url(#dotGlow)"><circle cx="1770" cy="867" r="24"/><circle cx="2048" cy="867" r="24"/></g>
<g fill="#f6fb8a"><circle cx="1770" cy="867" r="11"/><circle cx="2048" cy="867" r="11"/></g>
<g stroke="#fff" stroke-width="3" fill="none"><path d="M1990,852 v20 M2000,852 v20 M2010,852 v20 M1990,872 h28"/></g>
<rect x="1970" y="905" width="147" height="118" fill="#e3604c"/>
<rect x="1970" y="905" width="147" height="16" fill="#b84436"/>
<rect x="2075" y="1015" width="22" height="20" fill="#cc4a3a"/>
<g fill="none" stroke="#7a2a20" stroke-width="2.5"><path d="M2030,895 L2020,930 L2040,960 L2025,1000 L2040,1023"/><path d="M2070,895 L2060,925 L2085,955 L2070,990 L2090,1023"/><path d="M1975,945 L2000,935 L2020,950"/><path d="M2040,960 L2065,975 L2085,965 L2110,975"/><path d="M2000,1000 L2025,1000"/></g>
<rect class="w2" x="1733" y="942" width="84" height="15" rx="7"/>
<rect class="w2" x="1693" y="980" width="147" height="12" rx="6"/><rect class="b2" x="1696" y="991" width="144" height="9"/>
<rect class="w2" x="1700" y="1023" width="47" height="12" rx="6"/>
<rect class="w2" x="1733" y="1023" width="14" height="87" rx="6"/>
<rect class="w2" x="1733" y="1083" width="64" height="12" rx="6"/><rect class="b2" x="1747" y="1094" width="50" height="10"/>
<rect class="w2" x="1697" y="1070" width="13" height="53" rx="6"/>
<rect class="w2" x="1697" y="1110" width="140" height="10" rx="5"/><rect class="b2" x="1700" y="1119" width="137" height="9"/>
<rect class="w2" x="1880" y="943" width="57" height="13" rx="6"/>
<rect class="w2" x="1880" y="943" width="13" height="97" rx="6"/>
<rect class="w2" x="1924" y="950" width="13" height="90" rx="6"/>
<rect class="w2" x="1810" y="1030" width="83" height="13" rx="6"/>
<rect class="w2" x="1850" y="1063" width="13" height="80" rx="6"/>
<rect class="w2" x="1850" y="1063" width="36" height="12" rx="6"/>
<rect class="w2" x="1877" y="1070" width="13" height="35" rx="6"/>
<rect class="w2" x="1877" y="1097" width="60" height="12" rx="6"/><rect class="b2" x="1880" y="1108" width="57" height="10"/>
<rect class="w2" x="1963" y="977" width="14" height="166" rx="6"/>
<g fill="none" stroke="#d56b5d" stroke-width="3"><path d="M1866,1090 C1862,1140 1880,1160 1930,1152 C1955,1146 1960,1060 1955,1000 C1953,980 1962,972 1972,970"/><path d="M1760,1030 q8,-15 15,-5 q10,10 18,-8 q5,-10 12,-2"/><path d="M1900,1050 q10,10 18,0 q8,-12 16,2"/></g>
<polygon points="1866,1080 1859,1095 1873,1095" fill="#d56b5d"/>
<g fill="none" stroke="#33516b" stroke-width="2"><path d="M1680,940 q10,-6 20,0 t15,0"/><ellipse cx="1720" cy="937" rx="6" ry="5"/><path d="M1678,1040 q6,10 14,4 q8,-6 14,6"/></g>
<g fill="none" stroke="#0f1e33" stroke-width="7"><path d="M1957,1087 H2042"/><path d="M2042,1023 V1112"/></g>
<g fill="none" stroke="#cfdbe5" stroke-width="3"><path d="M1957,1087 H2042"/><path d="M2042,1023 V1112"/></g>
<rect x="1995" y="1112" width="125" height="55" rx="8" fill="#d9534f" stroke="#0f1e33" stroke-width="3"/>
<text class="e" x="2057" y="1140" font-size="38" fill="#fbeaea" text-anchor="middle" dominant-baseline="central" textLength="100" lengthAdjust="spacingAndGlyphs">ERROR</text>
<text class="e" x="1887" y="1223" font-size="46" text-anchor="middle" dominant-baseline="central" style="fill:#e4edf4" textLength="330" lengthAdjust="spacingAndGlyphs">重力感知センサー</text>
<text class="e" x="1887" y="1260" font-size="27" text-anchor="middle" dominant-baseline="central" style="fill:#b8cad8" textLength="212" lengthAdjust="spacingAndGlyphs">GRAVITY SENSOR</text>
<g transform="rotate(-25 1450 1035)"><ellipse cx="1450" cy="1035" rx="20" ry="24" fill="none" stroke="#0f1e33" stroke-width="12"/><ellipse cx="1450" cy="1035" rx="20" ry="24" fill="none" stroke="#a9bfce" stroke-width="7"/></g>
<circle cx="1505" cy="1148" r="100" fill="#a9bfce" stroke="#0f1e33" stroke-width="4"/>
<circle cx="1505" cy="1148" r="80" fill="#fff" stroke="#0f1e33" stroke-width="3"/>
<g stroke="#0f1e33" stroke-width="3"><line x1="1505" y1="1072" x2="1505" y2="1082"/><line x1="1505" y1="1214" x2="1505" y2="1224"/><line x1="1429" y1="1148" x2="1439" y2="1148"/><line x1="1571" y1="1148" x2="1581" y2="1148"/></g>
<path d="M1470,1130 A40,40 0 0 1 1520,1110" fill="none" stroke="#d9534f" stroke-width="7"/>
<polygon points="1462,1122 1480,1135 1465,1145" fill="#d9534f"/>
<path d="M1540,1165 A40,40 0 0 1 1490,1188" fill="none" stroke="#5aa866" stroke-width="7"/>
<polygon points="1548,1173 1530,1160 1545,1150" fill="#5aa866"/>
<polygon points="1545,1068 1500,1145 1512,1152" fill="#d9534f" stroke="#0f1e33" stroke-width="2"/>
<polygon points="1462,1230 1500,1145 1512,1152" fill="#2f5a80" stroke="#0f1e33" stroke-width="2"/>
<circle cx="1506" cy="1148" r="6" fill="#fff" stroke="#0f1e33" stroke-width="2"/>
<g fill="none" stroke="#0f1e33" stroke-width="1.5"><path d="M1475,1075 l5,12 l-6,10"/><path d="M1560,1085 l-6,10 l4,8"/></g>
<g stroke="#e8d27a" stroke-width="4" stroke-linecap="round"><line x1="1545" y1="1030" x2="1555" y2="1045"/><line x1="1570" y1="1012" x2="1572" y2="1030"/><line x1="1598" y1="1022" x2="1585" y2="1036"/><line x1="1610" y1="1048" x2="1592" y2="1052"/></g>
<g stroke="#0f1e33" stroke-width="7" fill="#0f1e33">
<circle cx="2262" cy="895" r="45"/><circle cx="2312" cy="880" r="40"/><circle cx="2370" cy="880" r="40"/><circle cx="2420" cy="905" r="42"/><circle cx="2420" cy="945" r="38"/><circle cx="2360" cy="955" r="35"/><circle cx="2300" cy="955" r="35"/><circle cx="2255" cy="940" r="42"/>
<circle cx="2270" cy="1007" r="17"/><circle cx="2249" cy="1033" r="10"/>
</g>
<g fill="#fff">
<circle cx="2262" cy="895" r="45"/><circle cx="2312" cy="880" r="40"/><circle cx="2370" cy="880" r="40"/><circle cx="2420" cy="905" r="42"/><circle cx="2420" cy="945" r="38"/><circle cx="2360" cy="955" r="35"/><circle cx="2300" cy="955" r="35"/><circle cx="2255" cy="940" r="42"/>
<ellipse cx="2338" cy="918" rx="100" ry="50"/>
<circle cx="2270" cy="1007" r="17"/><circle cx="2249" cy="1033" r="10"/>
</g>
<text class="t" x="2337" y="897" font-size="32" text-anchor="middle" dominant-baseline="central" textLength="190" lengthAdjust="spacingAndGlyphs">どっちが前？</text>
<text class="t" x="2337" y="941" font-size="32" text-anchor="middle" dominant-baseline="central" textLength="120" lengthAdjust="spacingAndGlyphs">上？下？</text>
<path d="M2280,1062 C2360,1060 2405,1110 2405,1170 C2405,1240 2350,1280 2290,1280 C2220,1280 2175,1235 2175,1180 C2175,1130 2220,1095 2275,1098 C2330,1100 2360,1140 2355,1180 C2350,1225 2310,1240 2285,1230 C2255,1218 2250,1185 2270,1170 C2290,1155 2310,1170 2305,1190" fill="none" stroke="#0f1e33" stroke-width="14" stroke-linecap="round"/>
<path d="M2280,1062 C2360,1060 2405,1110 2405,1170 C2405,1240 2350,1280 2290,1280 C2220,1280 2175,1235 2175,1180 C2175,1130 2220,1095 2275,1098 C2330,1100 2360,1140 2355,1180 C2350,1225 2310,1240 2285,1230 C2255,1218 2250,1185 2270,1170 C2290,1155 2310,1170 2305,1190" fill="none" stroke="#dbe7ef" stroke-width="8" stroke-linecap="round"/>
<ellipse cx="2242" cy="1060" rx="48" ry="24" fill="#e8f0f5" stroke="#0f1e33" stroke-width="3" transform="rotate(-8 2242 1060)"/>
<g class="e" fill="#c9473f" stroke="#0f1e33" stroke-width="1.5">
<text x="2388" y="1070" font-size="48">?</text><text x="2418" y="1095" font-size="58">?</text>
<text x="2208" y="1180" font-size="34">?</text><text x="2196" y="1252" font-size="52">?</text>
</g>
</svg>
</body></html>
